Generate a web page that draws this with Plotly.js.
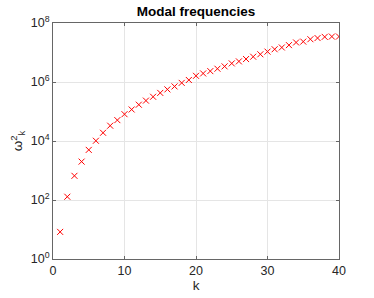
<!DOCTYPE html>
<html>
<head>
<meta charset="utf-8">
<script src="https://cdn.plot.ly/plotly-3.0.1.min.js"></script>
<style>html,body{margin:0;padding:0;background:#fff}#chart{width:374px;height:298px}</style>
</head>
<body>
<div id="chart"></div>
<script>
const k = [1,2,3,4,5,6,7,8,9,10,11,12,13,14,15,16,17,18,19,20,21,22,23,24,25,26,27,28,29,30,31,32,33,34,35,36,37,38,39,40];
const omega2 = [8.3,129,660,2000,5000,10200,19000,33000,51000,81000,117000,170000,234000,316000,427000,562000,708000,933000,1.17e6,1.62e6,1.95e6,2.34e6,2.82e6,3.39e6,4.27e6,5.0e6,6.0e6,7.2e6,8.7e6,1.07e7,1.29e7,1.48e7,1.78e7,2.19e7,2.34e7,2.82e7,3.09e7,3.39e7,3.47e7,3.47e7];
const yTickVals = [1,100,1e4,1e6,1e8];
const yTickText = ['10<sup>0</sup>','10<sup>2</sup>','10<sup>4</sup>','10<sup>6</sup>','10<sup>8</sup>'];
const xTickVals = [0,10,20,30,40];

const font = 'Liberation Sans, Arial, Helvetica, sans-serif';
const axisCommon = {
  showline: true, linecolor: '#666', linewidth: 1, mirror: 'ticks',
  ticks: 'inside', ticklen: 3, tickcolor: '#666', tickwidth: 1,
  showgrid: true, gridcolor: '#e5e5e5', gridwidth: 1,
  zeroline: false, tickfont: {family: font, size: 12.5, color: '#262626'}
};
Plotly.newPlot('chart', [{
  x: k, y: omega2, type: 'scatter', mode: 'markers',
  marker: {symbol: 'x-thin-open', size: 6, color: '#ff0000', line: {color: '#ff0000', width: 1}},
  hoverinfo: 'none'
}], {
  width: 374, height: 298,
  margin: {l: 53, r: 35, t: 23, b: 39},
  paper_bgcolor: '#fff', plot_bgcolor: '#fff',
  showlegend: false,
  title: {text: '<b>Modal frequencies</b>', font: {family: font, size: 13.5, color: '#000'}, x: 0.524, xanchor: 'center', y: 0.963, yanchor: 'middle'},
  xaxis: Object.assign({}, axisCommon, {
    range: [0, 40], tickvals: xTickVals, ticktext: xTickVals.map(String),
    title: {text: 'k', font: {family: font, size: 13.5, color: '#262626'}, standoff: 2}
  }),
  yaxis: Object.assign({}, axisCommon, {
    type: 'log', range: [0, 8], tickvals: yTickVals, ticktext: yTickText,
    title: {text: 'ω<sup>2</sup><sub>k</sub>', font: {family: font, size: 13.5, color: '#262626'}, standoff: 4}
  })
}, {staticPlot: true, displayModeBar: false});
</script>
</body>
</html>
